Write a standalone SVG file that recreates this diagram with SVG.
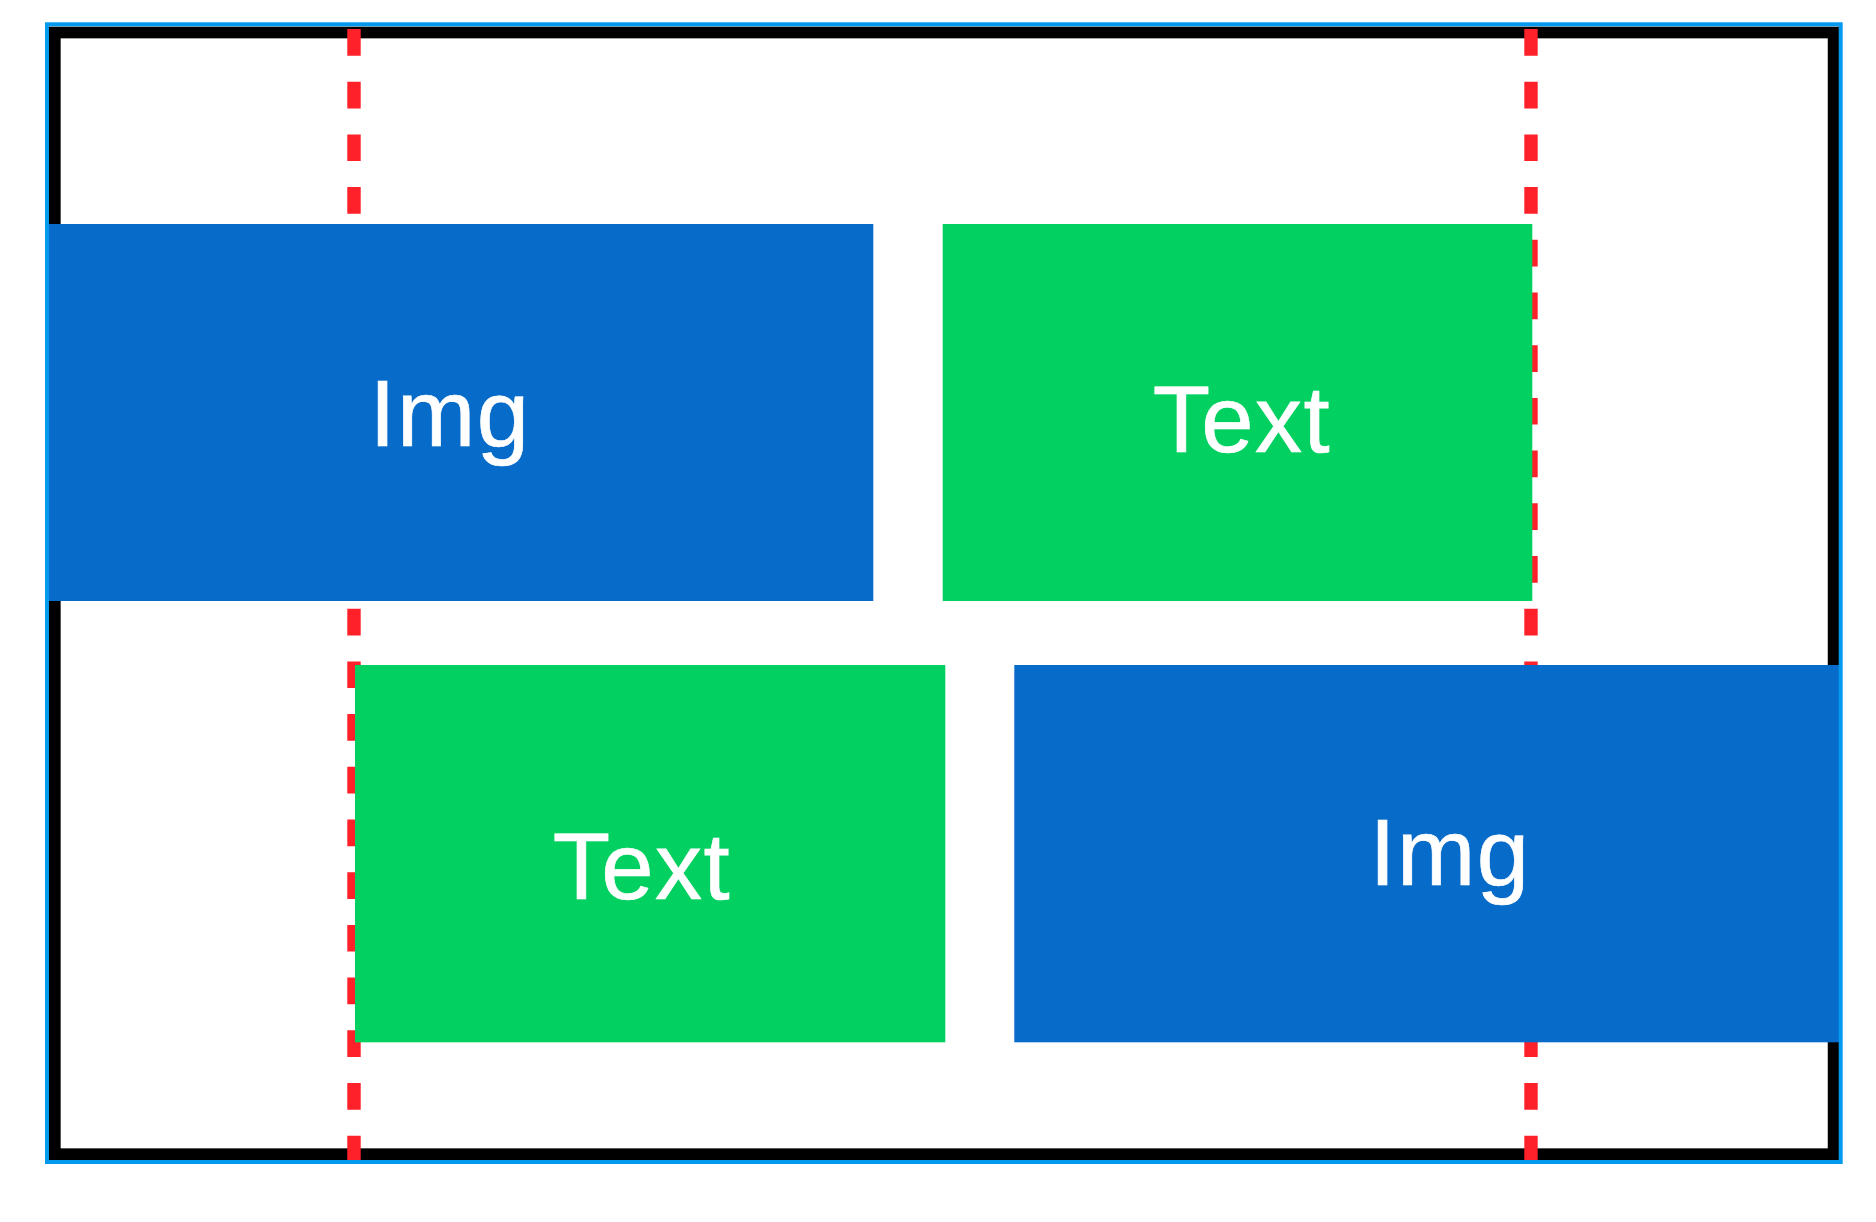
<svg xmlns="http://www.w3.org/2000/svg" width="1876" height="1222" viewBox="0 0 1876 1222">
<style>
.lbl{font-family:"Liberation Sans",Arial,sans-serif;font-size:94px;fill:#ffffff;stroke:#ffffff;stroke-width:0.7;letter-spacing:1.5px;text-anchor:middle}
.img{fill:#076bc9}
.txt{fill:#02d060}
.guide{stroke:#ff2129;stroke-width:13.4;stroke-dasharray:26.7 26}
</style>
<rect width="1876" height="1222" fill="#ffffff"/>
<g id="frame">
<rect x="54.8" y="32.5" width="1778.8" height="1121.7" fill="none" stroke="#000000" stroke-width="11.7"/>
</g>
<g id="connectors">
<line class="guide" x1="354" y1="29" x2="354" y2="1160"/>
<line class="guide" x1="1531" y1="29" x2="1531" y2="1160"/>
</g>
<g id="img1">
<rect class="img" x="49" y="224" width="824.3" height="377"/>
<text class="lbl" x="450" y="446">Img</text>
</g>
<g id="text1">
<rect class="txt" x="942.7" y="224" width="589.6" height="377"/>
<text class="lbl" x="1242" y="451.7">Text</text>
</g>
<g id="text2">
<rect class="txt" x="355" y="665" width="590.3" height="377.3"/>
<text class="lbl" x="642" y="899.3">Text</text>
</g>
<g id="img2">
<rect class="img" x="1014.3" y="665" width="824.7" height="377.3"/>
<text class="lbl" x="1450" y="885">Img</text>
</g>
<g id="outer">
<rect x="47" y="24.3" width="1793.7" height="1137.7" fill="none" stroke="#0399ef" stroke-width="4"/>
</g>
</svg>
